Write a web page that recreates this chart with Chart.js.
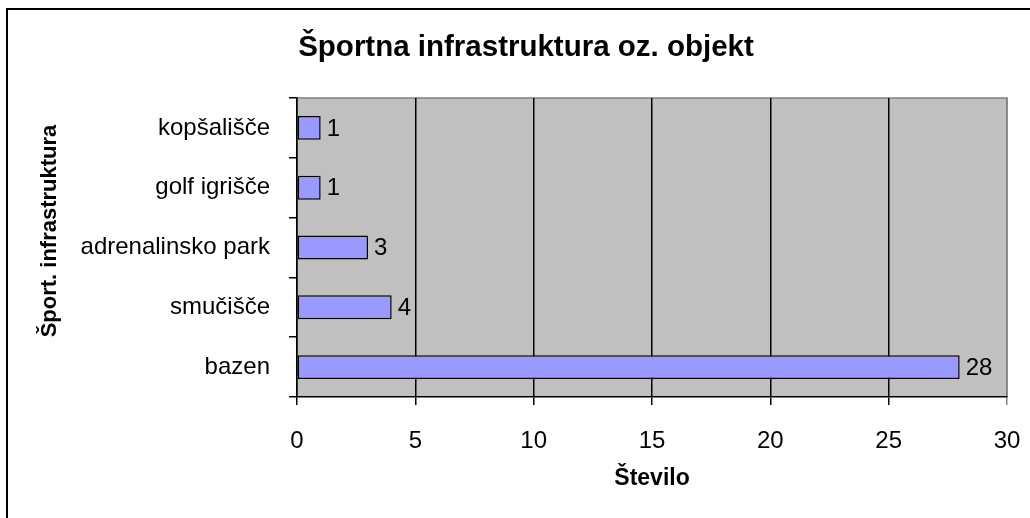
<!DOCTYPE html>
<html>
<head>
<meta charset="utf-8">
<script src="https://cdn.jsdelivr.net/npm/chart.js@4/dist/chart.umd.min.js"></script>
<style>
  html, body { margin: 0; padding: 0; background: #fff; }
  canvas { display: block; }
</style>
</head>
<body>
<canvas id="chart" width="1030" height="518"></canvas>
<script>
var categories = ["kopšališče", "golf igrišče", "adrenalinsko park", "smučišče", "bazen"];
var counts = [1, 1, 3, 4, 28];
var xTicks = [0, 5, 10, 15, 20, 25, 30];

var chartTitle = "Športna infrastruktura oz. objekt";
var yTitle = "Šport. infrastruktura";
var xTitle = "Število";

Chart.defaults.font.family = "'Liberation Sans', Arial, sans-serif";
Chart.defaults.color = "#000";

// gray plot area plus the outer frame of the chart
var backdrop = {
  id: "backdrop",
  beforeDraw: function(chart) {
    var ctx = chart.ctx, a = chart.chartArea;
    ctx.save();
    ctx.fillStyle = "#C0C0C0";
    ctx.fillRect(a.left, a.top, a.right - a.left, a.bottom - a.top);
    ctx.strokeStyle = "#808080";
    ctx.lineWidth = 1.5;
    ctx.beginPath();
    ctx.moveTo(a.left, a.top);
    ctx.lineTo(a.right, a.top);
    ctx.lineTo(a.right, a.bottom);
    ctx.stroke();
    ctx.strokeStyle = "#000";
    ctx.lineWidth = 2;
    ctx.strokeRect(7, 9, 1200, 700);
    ctx.restore();
  }
};

// value labels next to the bars, chart title and rotated y title
var labels = {
  id: "labels",
  afterDatasetsDraw: function(chart) {
    var ctx = chart.ctx;
    var meta = chart.getDatasetMeta(0);
    ctx.save();
    ctx.font = "24px 'Liberation Sans', Arial, sans-serif";
    ctx.fillStyle = "#000";
    ctx.textAlign = "left";
    ctx.textBaseline = "middle";
    meta.data.forEach(function(bar, i) {
      ctx.fillText(String(counts[i]), bar.x + 6, bar.y + 1);
    });
    ctx.textAlign = "center";
    ctx.font = "bold 29.5px 'Liberation Sans', Arial, sans-serif";
    ctx.fillText(chartTitle, 526, 48);
    ctx.translate(50, 231);
    ctx.rotate(-Math.PI / 2);
    ctx.font = "bold 22px 'Liberation Sans', Arial, sans-serif";
    ctx.fillText(yTitle, 0, 0);
    ctx.restore();
  }
};

new Chart("chart", {
  type: "bar",
  data: {
    labels: categories,
    datasets: [{
      data: counts,
      backgroundColor: "#9999FF",
      borderColor: "#000",
      borderWidth: 1.5,
      borderSkipped: false,
      barPercentage: 0.4,
      categoryPercentage: 1
    }]
  },
  options: {
    indexAxis: "y",
    responsive: false,
    animation: false,
    devicePixelRatio: 1,
    layout: { padding: { left: 22, right: 23, top: 98, bottom: 0 } },
    plugins: {
      legend: { display: false },
      tooltip: { enabled: false },
      title: { display: false }
    },
    scales: {
      x: {
        min: 0,
        max: 30,
        afterBuildTicks: function(scale) {
          scale.ticks = xTicks.map(function(v) { return { value: v }; });
        },
        afterFit: function(scale) {
          scale.height = 121;
          scale.paddingLeft = 0;
          scale.paddingRight = 0;
        },
        ticks: { font: { size: 24 }, color: "#000", padding: 22 },
        grid: {
          color: function(c) { return c.tick && c.tick.value === 30 ? "#808080" : "#000"; },
          lineWidth: 1.5,
          tickLength: 8
        },
        border: { display: true, color: "#000", width: 1.5 },
        title: {
          display: true,
          text: xTitle,
          color: "#000",
          font: { size: 23, weight: "bold" },
          padding: { top: 0, bottom: 26 }
        }
      },
      y: {
        afterFit: function(scale) { scale.width = 275; },
        ticks: { font: { size: 24 }, color: "#000", padding: 19 },
        grid: {
          drawOnChartArea: false,
          offset: true,
          color: "#000",
          lineWidth: 1.5,
          tickLength: 8
        },
        border: { display: true, color: "#000", width: 1.5 }
      }
    }
  },
  plugins: [backdrop, labels]
});
</script>
</body>
</html>
